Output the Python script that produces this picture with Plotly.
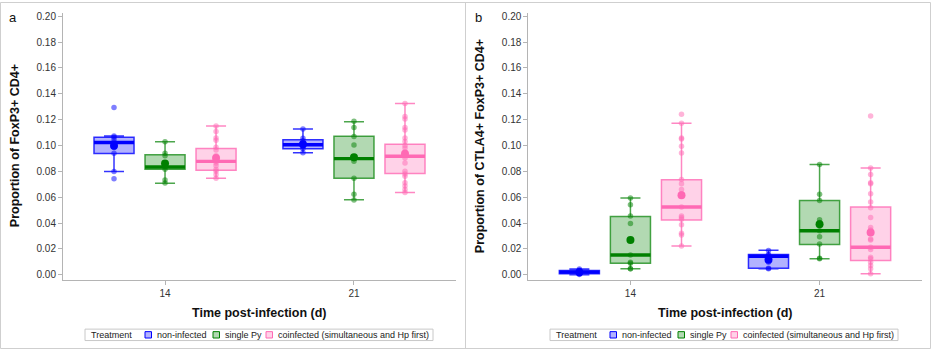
import plotly.graph_objects as go

# ---------------------------------------------------------------- data
days = ["14", "21"]
treatments = ["non-infected", "single Py", "coinfected (simultaneous and Hp first)"]
y_tick_values = [0.00, 0.02, 0.04, 0.06, 0.08, 0.10, 0.12, 0.14, 0.16, 0.18, 0.20]

# Panel a: proportion of FoxP3+ among CD4+ (rows = treatment, cols = day)
foxp3_q1 = [[0.0937, 0.0975], [0.0815, 0.0747], [0.0808, 0.0783]]
foxp3_median = [[0.1023, 0.1005], [0.0833, 0.0898], [0.0877, 0.0916]]
foxp3_q3 = [[0.1063, 0.1044], [0.0929, 0.1071], [0.0977, 0.1010]]
foxp3_whisker_low = [[0.0798, 0.0944], [0.0708, 0.0580], [0.0747, 0.0637]]
foxp3_whisker_high = [[0.1074, 0.1128], [0.1028, 0.1184], [0.1151, 0.1325]]
foxp3_mean = [[0.0997, 0.1010], [0.0860, 0.0908], [0.0903, 0.0936]]

foxp3_noninf_d14 = [0.1294, 0.1074, 0.1064, 0.1045, 0.1023, 0.1005, 0.0985, 0.0939, 0.0798, 0.0742]
foxp3_noninf_d21 = [0.1128, 0.1056, 0.1036, 0.1018, 0.1005, 0.0992, 0.0975, 0.0944]
foxp3_single_d14 = [0.1028, 0.0939, 0.0921, 0.0860, 0.0840, 0.0833, 0.0815, 0.0732, 0.0709]
foxp3_single_d21 = [0.1187, 0.1138, 0.1069, 0.1003, 0.0913, 0.0898, 0.0877, 0.0747, 0.0622, 0.0578]
foxp3_coinf_d14 = [0.1151, 0.1108, 0.1057, 0.1041, 0.0987, 0.0964, 0.0921, 0.0903, 0.0890,
                   0.0877, 0.0865, 0.0842, 0.0814, 0.0801, 0.0775, 0.0747]
foxp3_coinf_d21 = [0.1325, 0.1223, 0.1205, 0.1138, 0.1120, 0.1057, 0.1031, 0.1000, 0.0980, 0.0949,
                   0.0923, 0.0903, 0.0865, 0.0801, 0.0780, 0.0762, 0.0711, 0.0686, 0.0660, 0.0637]

# Panel b: proportion of CTLA4+ FoxP3+ among CD4+
ctla4_q1 = [[0.0008, 0.0051], [0.0089, 0.0233], [0.0424, 0.0110]]
ctla4_median = [[0.0020, 0.0143], [0.0153, 0.0340], [0.0524, 0.0212]]
ctla4_q3 = [[0.0033, 0.0156], [0.0450, 0.0575], [0.0734, 0.0524]]
ctla4_whisker_low = [[0.0000, 0.0046], [0.0046, 0.0123], [0.0222, 0.0008]]
ctla4_whisker_high = [[0.0045, 0.0189], [0.0593, 0.0852], [0.1171, 0.0826]]
ctla4_mean = [[0.0020, 0.0115], [0.0268, 0.0391], [0.0614, 0.0327]]

ctla4_noninf_d14 = [0.0045, 0.0035, 0.0028, 0.0022, 0.0018, 0.0012, 0.0008, 0.0002]
ctla4_noninf_d21 = [0.0187, 0.0156, 0.0148, 0.0136, 0.0120, 0.0110, 0.0097, 0.0051, 0.0046]
ctla4_single_d14 = [0.0593, 0.0542, 0.0455, 0.0397, 0.0153, 0.0097, 0.0089, 0.0046, 0.0046]
ctla4_single_d21 = [0.0852, 0.0622, 0.0575, 0.0425, 0.0404, 0.0340, 0.0294, 0.0238, 0.0128, 0.0123]
ctla4_coinf_d14 = [0.1241, 0.1172, 0.1057, 0.1050, 0.0993, 0.0941, 0.0737, 0.0704, 0.0660, 0.0627,
                   0.0617, 0.0524, 0.0455, 0.0443, 0.0430, 0.0386, 0.0320, 0.0307, 0.0223]
ctla4_coinf_d21 = [0.1228, 0.0826, 0.0775, 0.0711, 0.0704, 0.0627, 0.0563, 0.0519, 0.0443, 0.0366, 0.0345,
                   0.0322, 0.0276, 0.0269, 0.0212, 0.0195, 0.0136, 0.0123, 0.0097, 0.0072, 0.0046, 0.0008]

# ---------------------------------------------------------------- style
W, H = 931, 349
FONT = "Liberation Sans, Arial, sans-serif"
solid = ["rgb(0,0,255)", "rgb(0,128,0)", "rgb(255,105,180)"]
outline = ["rgba(0,0,255,0.8)", "rgba(0,128,0,0.7)", "rgba(255,105,180,0.8)"]
fill = ["rgba(0,0,255,0.3)", "rgba(0,128,0,0.3)", "rgba(255,105,180,0.3)"]
GROUP_OFFSET = [-0.27, 0.0, 0.27]
BOX_W = 0.212
FRAME = "#cfcfcf"
AXIS = "#b4b4b4"


def px_x(x):
    return x / W


def px_y(y):
    return 1 - y / H


fig = go.Figure()


def add_panel(suffix, q1, med, q3, lo, hi, mean, points):
    xa, ya = "x" + suffix, "y" + suffix
    for i, name in enumerate(treatments):
        pos = [d + GROUP_OFFSET[i] for d in range(len(days))]
        fig.add_trace(go.Box(
            x=pos, q1=q1[i], median=med[i], q3=q3[i], lowerfence=lo[i], upperfence=hi[i],
            width=BOX_W, whiskerwidth=0.5, fillcolor=fill[i],
            line=dict(color=outline[i], width=1.5), boxpoints=False,
            name=name, showlegend=False, hoverinfo="skip", xaxis=xa, yaxis=ya))
        # individual animals
        xs, ys = [], []
        for d, vals in enumerate(points[i]):
            xs += [pos[d]] * len(vals)
            ys += vals
        fig.add_trace(go.Scatter(
            x=xs, y=ys, mode="markers", showlegend=False, hoverinfo="skip",
            marker=dict(color=solid[i], size=5.5, opacity=0.5, line=dict(width=0)),
            xaxis=xa, yaxis=ya))
        # thick median bar across the box
        mx, my = [], []
        for d in range(len(days)):
            mx += [pos[d] - BOX_W / 2, pos[d] + BOX_W / 2, None]
            my += [med[i][d], med[i][d], None]
        fig.add_trace(go.Scatter(
            x=mx, y=my, mode="lines", showlegend=False, hoverinfo="skip",
            line=dict(color=solid[i], width=3.4), xaxis=xa, yaxis=ya))
        # group mean
        fig.add_trace(go.Scatter(
            x=pos, y=mean[i], mode="markers", showlegend=False, hoverinfo="skip",
            marker=dict(color=solid[i], size=8, line=dict(width=0)),
            xaxis=xa, yaxis=ya))


add_panel("", foxp3_q1, foxp3_median, foxp3_q3, foxp3_whisker_low, foxp3_whisker_high, foxp3_mean,
          [[foxp3_noninf_d14, foxp3_noninf_d21],
           [foxp3_single_d14, foxp3_single_d21],
           [foxp3_coinf_d14, foxp3_coinf_d21]])
add_panel("2", ctla4_q1, ctla4_median, ctla4_q3, ctla4_whisker_low, ctla4_whisker_high, ctla4_mean,
          [[ctla4_noninf_d14, ctla4_noninf_d21],
           [ctla4_single_d14, ctla4_single_d21],
           [ctla4_coinf_d14, ctla4_coinf_d21]])

x_common = dict(range=[-0.54, 1.54], tickmode="array", tickvals=list(range(len(days))), ticktext=days,
                showline=True, linecolor=AXIS, linewidth=1, ticks="outside", ticklen=4, tickcolor=AXIS,
                showgrid=False, zeroline=False, tickfont=dict(family=FONT, size=10, color="#333"))
y_common = dict(range=[-0.00385, 0.2025], tickmode="array", tickvals=y_tick_values, tickformat=".2f",
                showline=True, linecolor=AXIS, linewidth=1, ticks="outside", ticklen=4, tickcolor=AXIS,
                showgrid=False, zeroline=False, tickfont=dict(family=FONT, size=10, color="#333"),
                domain=[px_y(279.3), px_y(11)])

fig.update_layout(
    width=W, height=H, margin=dict(l=0, r=0, t=0, b=0),
    paper_bgcolor="white", plot_bgcolor="white", showlegend=False,
    xaxis=dict(x_common, domain=[px_x(63), px_x(456)], anchor="y"),
    yaxis=dict(y_common, anchor="x"),
    xaxis2=dict(x_common, domain=[px_x(528.3), px_x(921.7)], anchor="y2"),
    yaxis2=dict(y_common, anchor="x2"),
)

# panel frames
shapes = [
    dict(type="rect", xref="paper", yref="paper", x0=px_x(0.5), x1=px_x(930.5), y0=px_y(348.5), y1=px_y(0.5),
         line=dict(color=FRAME, width=1)),
    dict(type="line", xref="paper", yref="paper", x0=px_x(465.5), x1=px_x(465.5), y0=px_y(348.5), y1=px_y(0.5),
         line=dict(color=FRAME, width=1)),
]
annotations = []

panels = [
    dict(letter="a", left=0, plot=(63, 456), ytitle="Proportion of FoxP3+ CD4+"),
    dict(letter="b", left=465, plot=(528.3, 921.7), ytitle="Proportion of CTLA4+ FoxP3+ CD4+"),
]
title_font = dict(family=FONT, size=12.5, color="#111", weight="bold")
legend_font = dict(family=FONT, size=9, color="#222")

for p in panels:
    L = p["left"]
    annotations.append(dict(text=p["letter"], x=px_x(L + 13), y=px_y(15.5), xref="paper", yref="paper",
                            showarrow=False, xanchor="center", yanchor="middle",
                            font=dict(family=FONT, size=13, color="#111")))
    annotations.append(dict(text=p["ytitle"], x=px_x(L + 15), y=px_y(145), xref="paper", yref="paper",
                            textangle=-90, showarrow=False, xanchor="center", yanchor="middle",
                            font=title_font))
    cx = (p["plot"][0] + p["plot"][1]) / 2
    annotations.append(dict(text="Time post-infection (d)", x=px_x(cx), y=px_y(313), xref="paper",
                            yref="paper", showarrow=False, xanchor="center", yanchor="middle",
                            font=title_font))

    # legend block
    lx0, lx1, ly0, ly1 = L + 85, L + 433, 329, 340.5
    ymid = (ly0 + ly1) / 2
    shapes.append(dict(type="rect", xref="paper", yref="paper", x0=px_x(lx0), x1=px_x(lx1),
                       y0=px_y(ly1), y1=px_y(ly0), line=dict(color="#c8c8c8", width=1),
                       fillcolor="white"))
    annotations.append(dict(text="Treatment", x=px_x(lx0 + 3.5), y=px_y(ymid), xref="paper", yref="paper",
                            showarrow=False, xanchor="left", yanchor="middle", font=legend_font))
    swatch_left = [60, 128, 181]
    for i, name in enumerate(treatments):
        sx = lx0 + swatch_left[i]
        shapes.append(dict(type="rect", xref="paper", yref="paper", x0=px_x(sx), x1=px_x(sx + 6.5),
                           y0=px_y(ymid + 3.2), y1=px_y(ymid - 3.2), fillcolor=fill[i],
                           line=dict(color=solid[i], width=1)))
        annotations.append(dict(text=name, x=px_x(sx + 9.5), y=px_y(ymid), xref="paper", yref="paper",
                                showarrow=False, xanchor="left", yanchor="middle", font=legend_font))

fig.update_layout(shapes=shapes, annotations=annotations)
fig.write_html("out.html")
